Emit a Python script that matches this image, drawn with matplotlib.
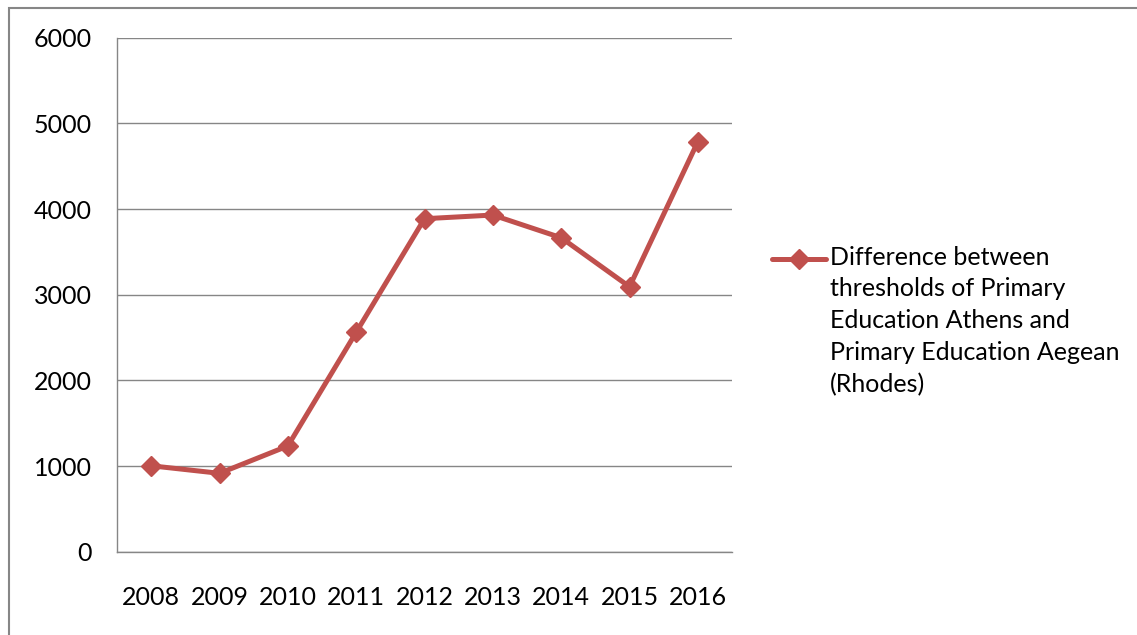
import matplotlib
matplotlib.use("Agg")
import matplotlib.pyplot as plt
from matplotlib.lines import Line2D
from matplotlib.patches import Rectangle

years = ["2008", "2009", "2010", "2011", "2012", "2013", "2014", "2015", "2016"]
difference = [1003, 915, 1234, 2561, 3887, 3930, 3665, 3093, 4786]
series_label = ("Difference between\nthresholds of Primary\nEducation Athens and\n"
                "Primary Education Aegean\n(Rhodes)")
y_ticks = [0, 1000, 2000, 3000, 4000, 5000, 6000]

plt.rcParams["font.family"] = ["Lato", "DejaVu Sans"]

W, H = 1137, 635
fig = plt.figure(figsize=(W / 100, H / 100), dpi=100)
fig.patch.set_facecolor("white")

# outer chart frame (extends past the right and bottom edges)
fig.add_artist(Rectangle((8.5 / W, -0.05), 1.2, 1.05 - 8 / H,
                         transform=fig.transFigure, fill=False,
                         edgecolor="#868686", linewidth=1.5))

ax = fig.add_axes([117 / W, 1 - 551.7 / H, (732 - 117) / W, (551.7 - 37.7) / H])

red = "#C0504D"
grey = "#868686"
x = list(range(len(years)))
ax.plot(x, difference, color=red, linewidth=3.6, marker="D", markersize=10,
        markerfacecolor=red, markeredgecolor=red, solid_capstyle="round",
        zorder=3)

ax.set_xlim(-0.5, len(years) - 0.5)
ax.set_ylim(0, 6000)
ax.set_xticks(x)
ax.set_xticklabels(years)
ax.set_yticks(y_ticks)
ax.set_yticklabels([str(v) for v in y_ticks])
ax.tick_params(axis="both", length=0, labelsize=18, labelcolor="black")
ax.tick_params(axis="x", pad=25)
ax.tick_params(axis="y", pad=18)

ax.grid(axis="y", color=grey, linewidth=1.0)
ax.set_axisbelow(True)
for side in ("top", "right"):
    ax.spines[side].set_visible(False)
for side in ("left", "bottom"):
    ax.spines[side].set_color(grey)
    ax.spines[side].set_linewidth(1.0)

# legend entry: sample line with marker beside a wrapped label
ly = 1 - 258.5 / H
fig.add_artist(Line2D([772 / W, 826 / W], [ly, ly], transform=fig.transFigure,
                      color=red, linewidth=3.6, solid_capstyle="round"))
fig.add_artist(Line2D([799 / W], [ly], transform=fig.transFigure, color=red,
                      marker="D", markersize=10, markeredgecolor=red))
fig.text(830 / W, 1 - 392 / H, series_label, fontsize=18, va="baseline",
         ha="left", linespacing=1.46, color="black")

fig.savefig("out.png", dpi=100, facecolor="white")
